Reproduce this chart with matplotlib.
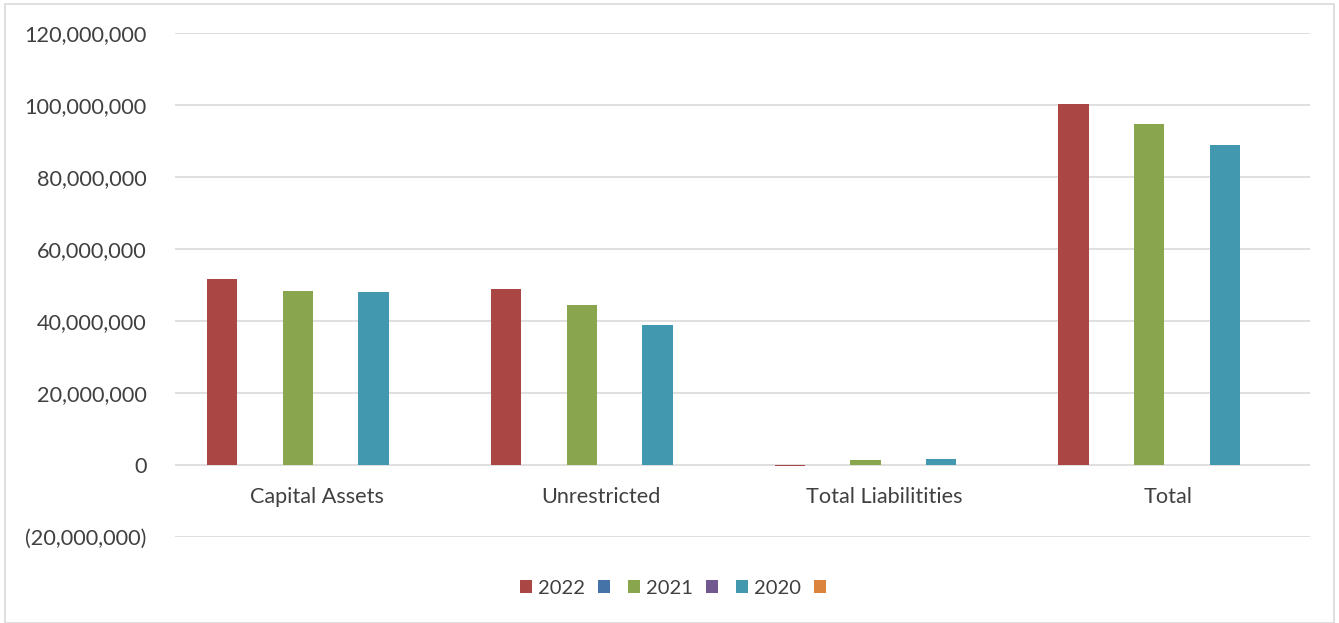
import matplotlib
matplotlib.use("Agg")
import matplotlib.pyplot as plt
from matplotlib.patches import Patch, Rectangle
from matplotlib.ticker import FuncFormatter, MultipleLocator
import numpy as np

categories = ["Capital Assets", "Unrestricted", "Total Liabilitities", "Total"]
series_names = ["2022", "", "2021", "", "2020", ""]
values_2022 = [51.7e6, 48.9e6, -0.2e6, 100.3e6]
values_blank1 = [0, 0, 0, 0]
values_2021 = [48.3e6, 44.4e6, 1.4e6, 94.7e6]
values_blank2 = [0, 0, 0, 0]
values_2020 = [48.1e6, 38.9e6, 1.6e6, 88.9e6]
values_blank3 = [0, 0, 0, 0]
colors = ["#AA4643", "#4572A7", "#89A54E", "#71588F", "#4198AF", "#DB843D"]

series = [values_2022, values_blank1, values_2021, values_blank2, values_2020, values_blank3]

plt.rcParams['font.family'] = ['Lato', 'DejaVu Sans']

W, H = 1339, 623
fig = plt.figure(figsize=(W/100, H/100), dpi=100)
ax = fig.add_axes([175/W, (H-537)/H, (1310-175)/W, (537-33)/H])

n = len(series)
slot = 0.8 / n
barw = slot * 0.8
x = np.arange(len(categories))
for i, (vals, c) in enumerate(zip(series, colors)):
    ax.bar(x + (i - (n-1)/2) * slot, vals, width=barw, color=c, zorder=3)

ax.set_xlim(-0.5, len(categories) - 0.5)
ax.set_ylim(-20e6, 120e6)
ax.yaxis.set_major_locator(MultipleLocator(20e6))

def fmt(v, pos):
    if v < 0:
        return "({:,.0f})".format(-v)
    return "{:,.0f}".format(v)
ax.yaxis.set_major_formatter(FuncFormatter(fmt))
ax.grid(axis='y', color='#D9D9D9', linewidth=1.2, zorder=0)
ax.set_axisbelow(True)
for s in ax.spines.values():
    s.set_visible(False)
ax.tick_params(axis='y', length=0, pad=20.5, labelsize=15.6, labelcolor='#404040')
ax.set_xticks([])

for xi, cat in zip(x, categories):
    ax.text(xi, -8.8e6, cat, ha='center', va='center', fontsize=15.6, color='#404040')

handles = [Patch(facecolor=c, edgecolor='none') for c in colors]
leg = fig.legend(handles, series_names, loc='center', bbox_to_anchor=(676/W, (H-588)/H),
                 ncol=6, frameon=False, fontsize=14.5, handlelength=0.6, handleheight=0.6,
                 handletextpad=0.3, columnspacing=0.62, labelcolor='#404040')

fig.patches.append(Rectangle((5/W, 0), (W-10)/W, (H-4)/H, transform=fig.transFigure,
                             fill=False, edgecolor='#D9D9D9', linewidth=1.2))

fig.savefig("out.png", dpi=100)
